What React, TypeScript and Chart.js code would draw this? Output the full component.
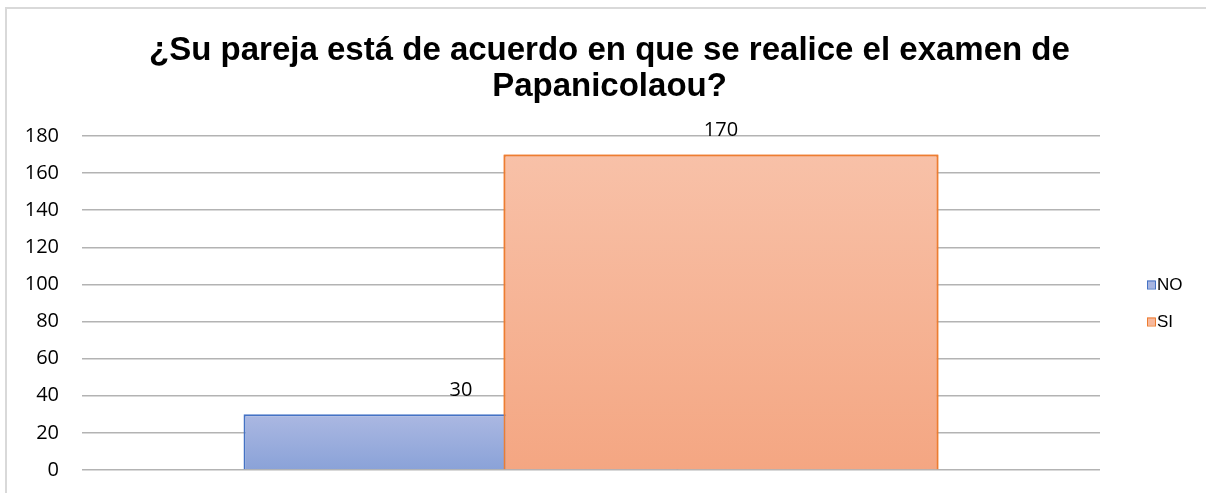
import { useEffect, useRef } from 'react';
import { Chart, registerables } from 'chart.js';

Chart.register(...registerables);

const categories = ['Respuesta'];
const seriesNames = ['NO', 'SI'];
const noValues = [30];
const siValues = [170];
const yTickValues = [0, 20, 40, 60, 80, 100, 120, 140, 160, 180];
const titleLines = ['¿Su pareja está de acuerdo en que se realice el examen de', 'Papanicolaou?'];

const NO_BORDER = '#4472c4';
const SI_BORDER = '#ed7d31';
const NO_GRAD = ['#abb8e2', '#8aa2d8'];
const SI_GRAD = ['#f8c1a8', '#f4a682'];
const LEGEND_FILLS = ['#a7b5e1', '#f7b89c'];
const LEGEND_BORDERS = [NO_BORDER, SI_BORDER];

function gradientFill(colors: string[], fallback: string) {
  return (ctx: any) => {
    const chart = ctx.chart;
    const { chartArea, scales } = chart;
    if (!chartArea || ctx.type !== 'data' || !scales.y) return fallback;
    const top = scales.y.getPixelForValue(ctx.raw);
    const bottom = scales.y.getPixelForValue(0);
    if (!isFinite(top) || !isFinite(bottom) || top === bottom) return fallback;
    const g = chart.ctx.createLinearGradient(0, top, 0, bottom);
    g.addColorStop(0, colors[0]);
    g.addColorStop(1, colors[1]);
    return g;
  };
}

const overlayPlugin = {
  id: 'overlayPlugin',
  beforeDraw(chart: any) {
    const ctx = chart.ctx;
    ctx.save();
    ctx.strokeStyle = '#d9d9d9';
    ctx.lineWidth = 2;
    ctx.strokeRect(6, 8, 1400, 700);
    ctx.restore();
  },
  afterDatasetsDraw(chart: any) {
    const ctx = chart.ctx;
    // draw SI on top of NO (overlapping bars)
    ctx.save();
    chart.getDatasetMeta(1).controller.draw();
    ctx.restore();

    // data labels
    ctx.save();
    ctx.font = '20px "Open Sans"';
    ctx.fillStyle = '#000000';
    ctx.textAlign = 'center';
    ctx.textBaseline = 'middle';
    chart.data.datasets.forEach((ds: any, i: number) => {
      const meta = chart.getDatasetMeta(i);
      meta.data.forEach((el: any, j: number) => {
        ctx.fillText(String(ds.data[j]), el.x, el.y - 24.5);
      });
    });
    ctx.restore();

    // legend
    const area = chart.chartArea;
    const cy = (area.top + area.bottom) / 2;
    ctx.save();
    ctx.font = '17px "Liberation Sans", Arial';
    ctx.textBaseline = 'middle';
    ctx.textAlign = 'left';
    chart.data.datasets.forEach((ds: any, i: number) => {
      const y = cy - 18.5 + i * 37;
      const x = area.right + 47;
      ctx.fillStyle = LEGEND_FILLS[i];
      ctx.fillRect(x, y - 4, 8, 8);
      ctx.strokeStyle = LEGEND_BORDERS[i];
      ctx.lineWidth = 1;
      ctx.strokeRect(x + 0.5, y - 3.5, 8, 8);
      ctx.fillStyle = '#000000';
      ctx.fillText(ds.label, x + 10, y + 1);
    });
    ctx.restore();
  },
};

export default function App() {
  const ref = useRef<HTMLCanvasElement>(null);
  useEffect(() => {
    if (!ref.current) return;
    const chart = new Chart(ref.current, {
      type: 'bar',
      data: {
        labels: categories,
        datasets: [
          {
            label: seriesNames[0],
            data: noValues,
            backgroundColor: gradientFill(NO_GRAD, NO_GRAD[1]),
            borderColor: NO_BORDER,
            borderWidth: 2,
            categoryPercentage: 0.5108,
            barPercentage: 1.673,
            xAxisID: 'x',
            yAxisID: 'y',
          },
          {
            label: seriesNames[1],
            data: siValues,
            backgroundColor: gradientFill(SI_GRAD, SI_GRAD[1]),
            borderColor: SI_BORDER,
            borderWidth: 2,
            categoryPercentage: 0.5108,
            barPercentage: 1.673,
            xAxisID: 'x',
            yAxisID: 'y',
          },
        ],
      },
      options: {
        responsive: false,
        animation: false,
        layout: { padding: { left: 13, right: 0, top: 0, bottom: 23 } },
        plugins: {
          legend: { display: false },
          tooltip: { enabled: false },
          title: {
            display: true,
            text: titleLines,
            color: '#000000',
            font: { family: '"Liberation Sans", Arial', size: 33, weight: 'bold', lineHeight: 36 / 33 },
            padding: { top: 33, bottom: 31 },
          },
        },
        scales: {
          x: {
            type: 'category',
            display: false,
            offset: true,
          },
          y: {
            type: 'linear',
            position: 'left',
            min: 0,
            max: 180,
            afterBuildTicks: (s: any) => {
              s.ticks = yTickValues.map((v) => ({ value: v }));
            },
            afterFit: (s: any) => {
              s.width = 69;
            },
            border: { display: false },
            grid: {
              color: '#b3b3b3',
              lineWidth: 1.5,
              drawTicks: true,
              tickLength: 23,
              tickColor: 'rgba(0,0,0,0)',
            },
            ticks: {
              color: '#000000',
              padding: 0,
              font: { family: '"Open Sans"', size: 20 },
            },
          },
          y2: {
            type: 'linear',
            position: 'right',
            display: true,
            grid: { display: false },
            border: { display: false },
            ticks: { display: false },
            afterFit: (s: any) => {
              s.width = 106;
            },
          },
        },
      },
      plugins: [overlayPlugin],
    } as any);
    return () => chart.destroy();
  }, []);
  return (
    <div style={{ position: 'absolute', left: 0, top: 0, width: 1206, height: 493 }}>
      <canvas ref={ref} width={1206} height={493} style={{ display: 'block' }} />
    </div>
  );
}
